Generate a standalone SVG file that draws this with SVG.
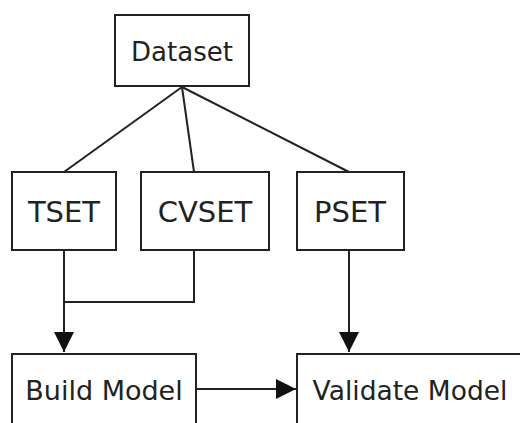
<svg xmlns="http://www.w3.org/2000/svg" width="520" height="423" viewBox="0 0 520 423">
<defs>
<style>
.box{fill:#fff;stroke:#222;stroke-width:2}
.lbl{font-family:"DejaVu Sans",sans-serif;fill:#222;text-anchor:middle}
.edge{fill:none;stroke:#222;stroke-width:2}
</style>
<marker id="arr" viewBox="0 0 20 20" refX="20" refY="10" markerWidth="20" markerHeight="20" markerUnits="userSpaceOnUse" orient="auto">
<path d="M0,0 L20,10 L0,20 Z" fill="#111"/>
</marker>
</defs>
<rect width="520" height="423" fill="#fff"/>
<g id="edges">
<line class="edge" x1="182" y1="87" x2="64" y2="172"/>
<line class="edge" x1="182" y1="87" x2="194" y2="172"/>
<line class="edge" x1="182" y1="87" x2="349" y2="172"/>
<polyline class="edge" points="194,250 194,302 64,302"/>
<line class="edge" x1="64" y1="250" x2="64" y2="352" marker-end="url(#arr)"/>
<line class="edge" x1="349" y1="250" x2="349" y2="352" marker-end="url(#arr)"/>
<line class="edge" x1="196" y1="389" x2="296" y2="389" marker-end="url(#arr)"/>
</g>
<g id="dataset"><rect class="box" x="115" y="15" width="134" height="71"/><text class="lbl" x="182" y="61" font-size="26">Dataset</text></g>
<g id="tset"><rect class="box" x="12" y="172" width="104" height="78"/><text class="lbl" x="64" y="222" font-size="29">TSET</text></g>
<g id="cvset"><rect class="box" x="141" y="172" width="128" height="78"/><text class="lbl" x="205" y="222" font-size="29">CVSET</text></g>
<g id="pset"><rect class="box" x="297" y="172" width="107" height="78"/><text class="lbl" x="350" y="222" font-size="29">PSET</text></g>
<g id="build"><rect class="box" x="12" y="354" width="184" height="80"/><text class="lbl" x="104" y="400" font-size="27">Build Model</text></g>
<g id="validate"><rect class="box" x="297" y="354" width="240" height="80"/><text class="lbl" x="410" y="400" font-size="26.5">Validate Model</text></g>
</svg>
